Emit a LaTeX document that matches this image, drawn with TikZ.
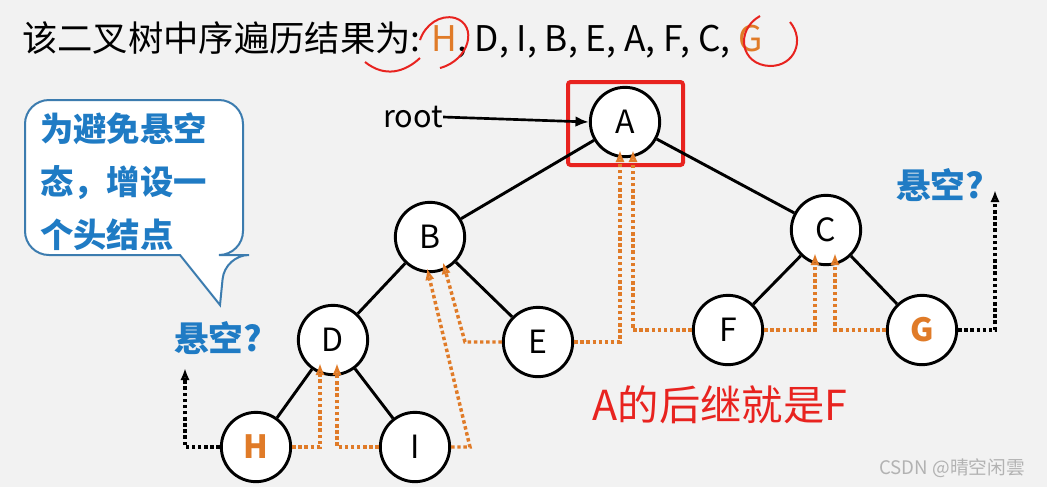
\documentclass[tikz,border=0pt]{standalone}
\usepackage{fontspec}
\setmainfont{Noto Sans CJK SC}
\usetikzlibrary{arrows.meta}
\definecolor{bg}{HTML}{F2F2F2}
\definecolor{org}{HTML}{E07B28}
\definecolor{blu}{HTML}{1F7BC4}
\definecolor{rd}{HTML}{E8231F}
\tikzset{
 tn/.style={circle,draw,line width=2.2pt,minimum size=52,inner sep=0pt,fill=white,font=\fontsize{24}{24}\selectfont},
 ed/.style={line width=2.2pt},
 thr/.style={draw=org,line width=2.6pt,dotted,-{Latex[length=9pt,width=7pt,open]}},
 nul/.style={draw=black,line width=2.6pt,dotted,-{Latex[length=9pt,width=7pt,open]}},
 ask/.style={text=blu,font=\fontsize{26}{26}\selectfont\bfseries},
}
\begin{document}
\begin{tikzpicture}[x=0.75pt,y=-0.75pt]
\fill[bg] (0,0) rectangle (1047,487);
\useasboundingbox (0,0) rectangle (1047,487);
% title
\node[anchor=west,font=\fontsize{26.5}{26.5}\selectfont,inner sep=0] (title) at (22,40) {该二叉树中序遍历结果为: \textcolor{org}{H}, D, I, B, E, A, F, C, \textcolor{org}{G}};
\draw[rd,line width=1.5pt] (440,68) .. controls (470,60) and (478,25) .. (455,18) .. controls (440,14) and (425,25) .. (420,40);
\draw[rd,line width=1.5pt] (365,62) .. controls (385,78) and (405,72) .. (420,58);
\draw[rd,line width=1.5pt] (760,16) .. controls (735,30) and (740,65) .. (770,66) .. controls (795,66) and (805,40) .. (790,22);
% red box
\draw[rd,line width=3pt,rounded corners=2] (568,82) rectangle (683,165);
% nodes
\node[tn] (A) at (625,122) {A};
\node[tn] (B) at (430,237) {B};
\node[tn] (C) at (826,230) {C};
\node[tn] (D) at (333,340) {D};
\node[tn] (E) at (538,342) {E};
\node[tn] (F) at (728,330) {F};
\node[tn,text=org,font=\fontsize{24}{24}\selectfont\bfseries] (G) at (922,330) {G};
\node[tn,text=org,font=\fontsize{24}{24}\selectfont\bfseries] (H) at (256,447) {H};
\node[tn] (I) at (415,447) {I};
\foreach \a/\b in {A/B,A/C,B/D,B/E,C/F,C/G,D/H,D/I} \draw[ed] (\a) -- (\b);
% root
\node[font=\fontsize{23}{23}\selectfont,inner sep=0] (root) at (413,117) {root};
\draw[line width=2pt,-{Latex[length=10pt,width=8pt]}] (root.east) -- (A.west);
% callout
\draw[blu!70!gray,line width=1.5pt,fill=white,rounded corners=18] (25,100) -- (243,100) -- (243,255) -- (225,255) [sharp corners] -- (220,305) -- (180,255) [rounded corners=18] -- (25,255) -- cycle;
\node[anchor=north west,align=left,text=blu,font=\fontsize{25}{40}\selectfont\bfseries,inner sep=0] (call) at (40,112) {为避免悬空\\态，增设一\\个头结点};
\node[ask] (q1) at (218,338) {悬空?};
\node[ask] (q2) at (940,185) {悬空?};
% null threads
\coordinate (n1) at (185,368);
\coordinate (n2) at (995,190);
\draw[nul] (H.west) -| (n1);
\draw[nul] (G.east) -| (n2);
% threads
\draw[thr] (H.east) -| (320,363);
\draw[thr] (I.west) -| (337,363);
\draw[thr] (I.east) -- (470,447) -- (427,268);
\draw[thr] (E.west) -- (465,342) -- (443,262);
\draw[thr] (E.east) -| (620,150);
\draw[thr] (F.west) -| (633,150);
\draw[thr] (F.east) -| (815,253);
\draw[thr] (G.west) -| (835,253);
% note
\node[text=rd,font=\fontsize{31}{31}\selectfont,inner sep=0] (note) at (720,405) {A的后继就是F};
\node[text=gray!60,font=\fontsize{14}{14}\selectfont,inner sep=0] (wm) at (952,468) {CSDN @晴空闲雲};
\end{tikzpicture}
\end{document}
